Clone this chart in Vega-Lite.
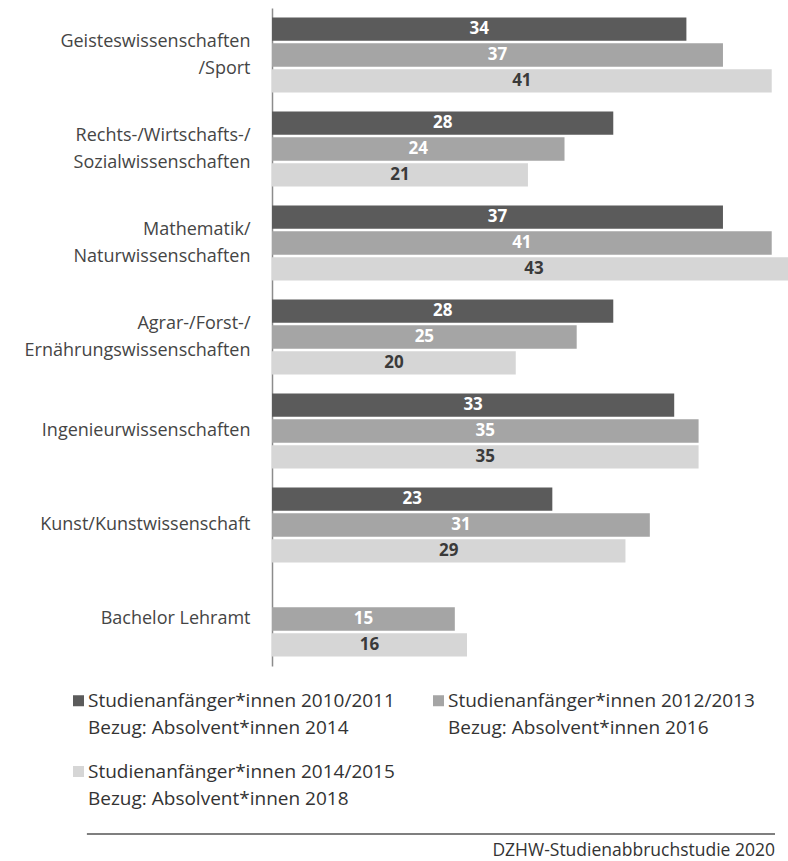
{
  "$schema": "https://vega.github.io/schema/vega-lite/v6.json",
  "padding": {"left": 24, "top": 8, "right": 0, "bottom": 0},
  "background": "white",
  "config": {"view": {"stroke": null}, "font": "Open Sans", "style": {"guide-label": {"lineHeight": 27}}},
  "spacing": 167,
  "datasets": {
    "rates": [
      {"field": "Geisteswissenschaften|/Sport", "series": "Studienanfänger*innen 2010/2011|Bezug: Absolvent*innen 2014", "rate": 34},
      {"field": "Geisteswissenschaften|/Sport", "series": "Studienanfänger*innen 2012/2013|Bezug: Absolvent*innen 2016", "rate": 37},
      {"field": "Geisteswissenschaften|/Sport", "series": "Studienanfänger*innen 2014/2015|Bezug: Absolvent*innen 2018", "rate": 41},
      {"field": "Rechts-/Wirtschafts-/|Sozialwissenschaften", "series": "Studienanfänger*innen 2010/2011|Bezug: Absolvent*innen 2014", "rate": 28},
      {"field": "Rechts-/Wirtschafts-/|Sozialwissenschaften", "series": "Studienanfänger*innen 2012/2013|Bezug: Absolvent*innen 2016", "rate": 24},
      {"field": "Rechts-/Wirtschafts-/|Sozialwissenschaften", "series": "Studienanfänger*innen 2014/2015|Bezug: Absolvent*innen 2018", "rate": 21},
      {"field": "Mathematik/|Naturwissenschaften", "series": "Studienanfänger*innen 2010/2011|Bezug: Absolvent*innen 2014", "rate": 37},
      {"field": "Mathematik/|Naturwissenschaften", "series": "Studienanfänger*innen 2012/2013|Bezug: Absolvent*innen 2016", "rate": 41},
      {"field": "Mathematik/|Naturwissenschaften", "series": "Studienanfänger*innen 2014/2015|Bezug: Absolvent*innen 2018", "rate": 43},
      {"field": "Agrar-/Forst-/|Ernährungswissenschaften", "series": "Studienanfänger*innen 2010/2011|Bezug: Absolvent*innen 2014", "rate": 28},
      {"field": "Agrar-/Forst-/|Ernährungswissenschaften", "series": "Studienanfänger*innen 2012/2013|Bezug: Absolvent*innen 2016", "rate": 25},
      {"field": "Agrar-/Forst-/|Ernährungswissenschaften", "series": "Studienanfänger*innen 2014/2015|Bezug: Absolvent*innen 2018", "rate": 20},
      {"field": "Ingenieurwissenschaften", "series": "Studienanfänger*innen 2010/2011|Bezug: Absolvent*innen 2014", "rate": 33},
      {"field": "Ingenieurwissenschaften", "series": "Studienanfänger*innen 2012/2013|Bezug: Absolvent*innen 2016", "rate": 35},
      {"field": "Ingenieurwissenschaften", "series": "Studienanfänger*innen 2014/2015|Bezug: Absolvent*innen 2018", "rate": 35},
      {"field": "Kunst/Kunstwissenschaft", "series": "Studienanfänger*innen 2010/2011|Bezug: Absolvent*innen 2014", "rate": 23},
      {"field": "Kunst/Kunstwissenschaft", "series": "Studienanfänger*innen 2012/2013|Bezug: Absolvent*innen 2016", "rate": 31},
      {"field": "Kunst/Kunstwissenschaft", "series": "Studienanfänger*innen 2014/2015|Bezug: Absolvent*innen 2018", "rate": 29},
      {"field": "Bachelor Lehramt", "series": "Studienanfänger*innen 2012/2013|Bezug: Absolvent*innen 2016", "rate": 15},
      {"field": "Bachelor Lehramt", "series": "Studienanfänger*innen 2014/2015|Bezug: Absolvent*innen 2018", "rate": 16}
    ],
    "footer": [{"source": "DZHW-Studienabbruchstudie 2020", "start": -0.368, "end": 1, "line": 1, "textpos": 0.5}]
  },
  "vconcat": [
    {
      "width": 518,
      "height": 658,
      "data": {"name": "rates"},
      "transform": [{"calculate": "datum.rate / 2", "as": "mid"}],
      "encoding": {
        "y": {
          "field": "field", "type": "nominal", "sort": null,
          "scale": {"paddingInner": 0.2, "paddingOuter": 0.1},
          "axis": {"title": null, "labelExpr": "split(datum.label, '|')", "labelFontSize": 18, "labelLineHeight": 27, "labelColor": "#454545", "labelPadding": 22, "labelOffset": {"condition": {"test": "indexof(datum.value, '|') >= 0", "value": -13.5}, "value": 0}, "ticks": false, "domainColor": "#8c8c8c", "domainWidth": 1.5, "labelLimit": 400, "grid": false}
        },
        "yOffset": {
          "field": "series", "type": "nominal",
          "scale": {"domain": ["Studienanfänger*innen 2010/2011|Bezug: Absolvent*innen 2014", "Studienanfänger*innen 2012/2013|Bezug: Absolvent*innen 2016", "Studienanfänger*innen 2014/2015|Bezug: Absolvent*innen 2018"], "paddingInner": 0.1, "paddingOuter": 0}
        }
      },
      "layer": [
        {
          "mark": {"type": "bar", "clip": true},
          "encoding": {
            "x": {"field": "rate", "type": "quantitative", "scale": {"domain": [0, 42.5], "nice": false}, "axis": null},
            "color": {
              "field": "series", "type": "nominal",
              "scale": {"domain": ["Studienanfänger*innen 2010/2011|Bezug: Absolvent*innen 2014", "Studienanfänger*innen 2012/2013|Bezug: Absolvent*innen 2016", "Studienanfänger*innen 2014/2015|Bezug: Absolvent*innen 2018"], "range": ["#5b5b5b", "#a5a5a5", "#d6d6d6"]},
              "legend": {"orient": "none", "direction": "horizontal", "legendX": -203, "legendY": 683, "columns": 2, "columnPadding": 34, "rowPadding": 24, "padding": 0, "labelExpr": "split(datum.label, '|')", "labelFontSize": 19, "labelColor": "#333333", "labelLimit": 400, "symbolType": "square", "symbolSize": 121, "symbolStrokeWidth": 0, "title": null, "labelOffset": 0}
            }
          }
        },
        {
          "mark": {"type": "text", "fontSize": 17, "fontWeight": "bold", "baseline": "middle", "align": "center"},
          "encoding": {
            "x": {"field": "mid", "type": "quantitative", "axis": null},
            "text": {"field": "rate", "type": "quantitative"},
            "color": {"condition": {"test": "indexof(datum.series, '2014/2015') >= 0", "value": "#3a3a3a"}, "value": "#ffffff"}
          }
        }
      ]
    },
    {
      "width": 503,
      "height": 26,
      "data": {"name": "footer"},
      "encoding": {
        "y": {"field": "line", "type": "quantitative", "scale": {"domain": [0, 1]}, "axis": null}
      },
      "layer": [
        {
          "mark": {"type": "rule", "color": "#555555", "strokeWidth": 1.5},
          "encoding": {
            "x": {"field": "start", "type": "quantitative", "scale": {"domain": [0, 1], "nice": false}, "axis": null},
            "x2": {"field": "end"}
          }
        },
        {
          "mark": {"type": "text", "align": "right", "baseline": "middle", "fontSize": 17.5, "color": "#333333", "dy": 4},
          "encoding": {
            "x": {"field": "end", "type": "quantitative", "axis": null},
            "y": {"field": "textpos", "type": "quantitative", "axis": null},
            "text": {"field": "source"}
          }
        }
      ]
    }
  ]
}
